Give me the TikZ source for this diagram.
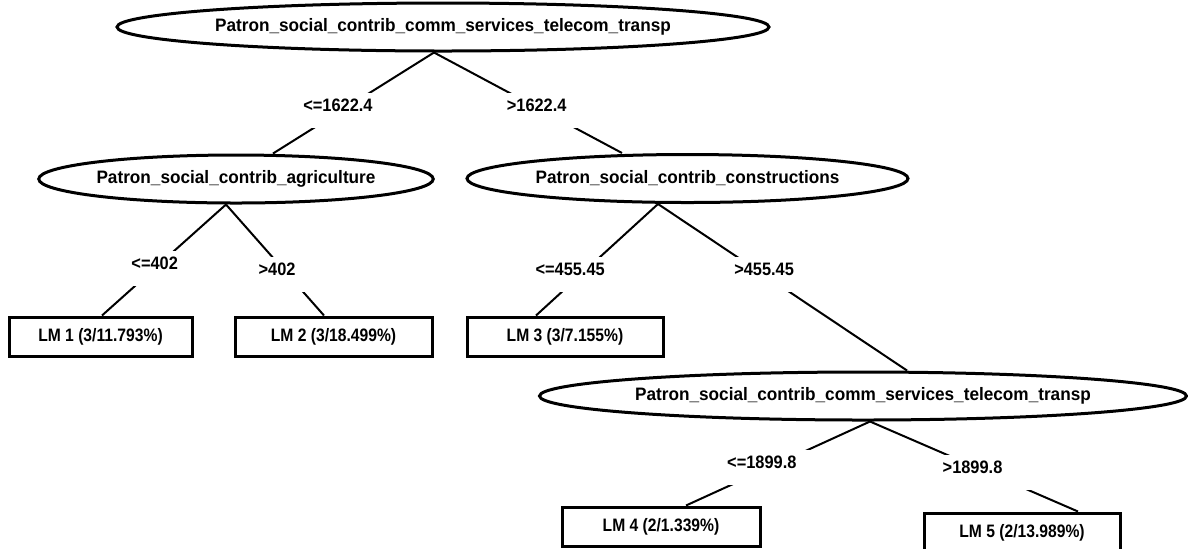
\documentclass[tikz,border=0pt]{standalone}
\usepackage{fontspec}
\setmainfont{Liberation Sans}
\newfontfamily\ellfont{Liberation Sans}[FakeStretch=0.955]
\newfontfamily\lblfont{Liberation Sans}[FakeStretch=0.91]
\newfontfamily\leaffont{Liberation Sans}[FakeStretch=0.87]
\usetikzlibrary{shapes.geometric,calc}
\begin{document}
\begin{tikzpicture}[x=0.5pt,y=-0.5pt,
  split/.style={draw,line width=1.5pt,ellipse,inner sep=0pt,minimum height=24pt,
    font=\ellfont\bfseries\fontsize{9}{10}\selectfont},
  leaf/.style={draw,line width=1.5pt,rectangle,inner sep=0pt,minimum height=19.5pt,
    font=\leaffont\bfseries\fontsize{9}{10}\selectfont},
  edge/.style={line width=1pt},
  cond/.style={fill=white,inner xsep=8pt,inner ysep=3.25pt,text height=6pt,text depth=5pt,
    font=\lblfont\bfseries\fontsize{9}{10}\selectfont}]
\useasboundingbox (0,0) rectangle (1188,548);

% split nodes
\node[split,minimum width=326pt] (root) at (443,27) {Patron\_social\_contrib\_comm\_services\_telecom\_transp};
\node[split,minimum width=196pt] (agr) at (236,179) {Patron\_social\_contrib\_agriculture};
\node[split,minimum width=220.5pt] (con) at (687.5,178.5) {Patron\_social\_contrib\_constructions};
\node[split,minimum width=323.5pt] (tel) at (863,396) {Patron\_social\_contrib\_comm\_services\_telecom\_transp};

% leaves
\node[leaf,minimum width=91.5pt] (lm1) at (100.5,336.5) {LM 1 (3/11.793\%)};
\node[leaf,minimum width=98.5pt] (lm2) at (333.5,336.5) {LM 2 (3/18.499\%)};
\node[leaf,minimum width=98pt] (lm3) at (565,336.5) {LM 3 (3/7.155\%)};
\node[leaf,minimum width=99pt] (lm4) at (661,526.5) {LM 4 (2/1.339\%)};
\node[leaf,minimum width=98pt] (lm5) at (1022,532.5) {LM 5 (2/13.989\%)};

% edge end points
\coordinate (r0) at ($(root.south)+(-9,0)$);
\coordinate (a0) at ($(agr.south)+(-10,0)$);
\coordinate (c0) at ($(con.south)+(-29.5,0)$);
\coordinate (t0) at ($(tel.south)+(7,0)$);
\coordinate (ain) at ($(agr.north)+(37,0)$);
\coordinate (cin) at ($(con.north)+(-65.5,0)$);
\coordinate (tin) at ($(tel.north)+(44,0)$);
\coordinate (l1in) at ($(lm1.north)+(1.5,0)$);
\coordinate (l2in) at ($(lm2.north)+(-9.5,0)$);
\coordinate (l3in) at ($(lm3.north)+(-29,0)$);
\coordinate (l4in) at ($(lm4.north)+(25,0)$);
\coordinate (l5in) at ($(lm5.north)+(56,0)$);

% edges with condition labels
\draw[edge] (r0) -- node[cond,pos=0.578]{<=1622.4\hspace*{3pt}} (ain);
\draw[edge] (r0) -- node[cond,pos=0.578]{>1622.4\hspace*{6pt}} (cin);
\draw[edge] (a0) -- node[cond,pos=0.575]{<=402} (l1in);
\draw[edge] (a0) -- node[cond,pos=0.633]{>402\hspace*{11pt}} (l2in);
\draw[edge] (c0) -- node[cond,pos=0.63]{<=455.45\hspace*{11pt}} (l3in);
\draw[edge] (c0) -- node[cond,pos=0.426]{>455.45} (tin);
\draw[edge] (t0) -- node[cond,pos=0.55]{<=1899.8\hspace*{7pt}} (l4in);
\draw[edge] (t0) -- node[cond,pos=0.565]{>1899.8\hspace*{15pt}} (l5in);
\end{tikzpicture}
\end{document}
